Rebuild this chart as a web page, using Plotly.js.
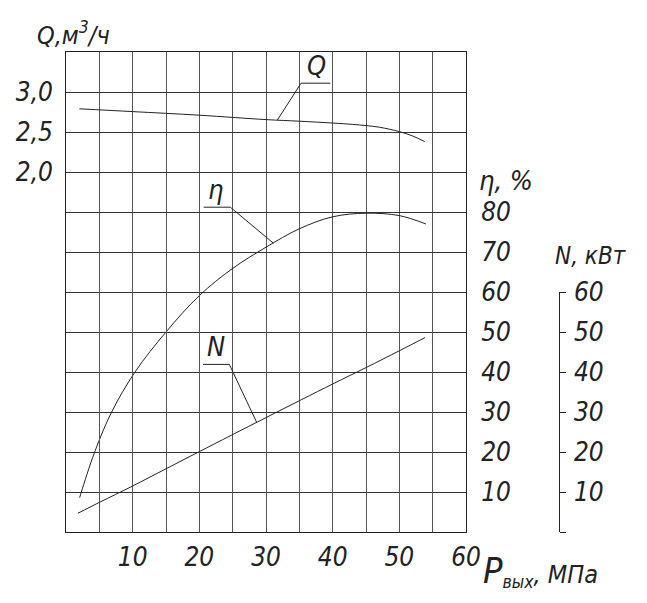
<!DOCTYPE html>
<html>
<head>
<meta charset="utf-8">
<script src="https://cdn.plot.ly/plotly-3.0.1.min.js"></script>
<style>
  html, body { margin: 0; padding: 0; background: #fff; }
  #chart { width: 647px; height: 603px; }
</style>
</head>
<body>
<div id="chart"></div>
<script>
// Pressure P_вых, MPa, and the three characteristics
const qP = [2, 10, 20, 30, 35, 40, 43, 45, 47, 50, 52, 53.8];
const qVal = [2.79, 2.755, 2.71, 2.655, 2.635, 2.612, 2.595, 2.58, 2.56, 2.505, 2.45, 2.38];

const etaP = [2.05, 2.3, 4.3, 6.85, 10.35, 15, 20, 25, 30, 35, 40, 45, 50, 54];
const etaVal = [8.6, 10, 20, 30, 40, 50, 59.1, 65.9, 71.2, 75.8, 78.8, 79.7, 79.1, 77];

const nP = [1.8, 5, 10, 15, 20, 30, 40, 45, 50, 53.85];
const nVal = [4.7, 7.4, 11.5, 15.8, 20.1, 28.6, 37, 41.1, 45.3, 48.6];

// tick labels
const pTicks = [0, 5, 10, 15, 20, 25, 30, 35, 40, 45, 50, 55, 60];
const pLabels = ['', '', '10', '', '20', '', '30', '', '40', '', '50', '', '60'];
const etaTicks = [0, 10, 20, 30, 40, 50, 60, 70, 80, 90, 100, 110, 120];
const etaLabels = ['', '10', '20', '30', '40', '50', '60', '70', '80', '', '', '', ''];
const qTicks = [2.0, 2.5, 3.0];
const qLabels = ['2,0', '2,5', '3,0'];
const nTicks = [0, 10, 20, 30, 40, 50, 60];
const nLabels = ['', '10', '20', '30', '40', '50', '60'];

const FONT = 'Liberation Sans Narrow, DejaVu Sans Condensed, sans-serif';
const INK = '#222';

// page geometry
const L = 66, R = 20, T = 52, B = 71;
const W = 647 - L - R, H = 603 - T - B;
const px = x => (x - L) / W;       // pixel -> paper
const py = y => (T + H - y) / H;

function interp(xs, ys, x) {
    for (let i = 1; i < xs.length; i++) {
        if (x <= xs[i]) {
            const t = (x - xs[i - 1]) / (xs[i] - xs[i - 1]);
            return ys[i - 1] + t * (ys[i] - ys[i - 1]);
        }
    }
    return ys[ys.length - 1];
}

const curve = { color: INK, width: 1, shape: 'spline', smoothing: 1 };
const leader = { color: INK, width: 1 };

// leader lines: foot on the curve, elbow, end of the underline
const qFoot = 31.7, etaFoot = 31.1, nFoot = 28.6;

const traces = [
    { x: qP, y: qVal, yaxis: 'y2', mode: 'lines', line: curve, hoverinfo: 'skip' },
    { x: etaP, y: etaVal, yaxis: 'y', mode: 'lines', line: curve, hoverinfo: 'skip' },
    { x: nP, y: nVal, yaxis: 'y3', mode: 'lines', line: curve, hoverinfo: 'skip' },
    { x: [qFoot, 35.25, 39.65], y: [interp(qP, qVal, qFoot), 3.11, 3.11], yaxis: 'y2',
      mode: 'lines', line: leader, hoverinfo: 'skip' },
    { x: [etaFoot, 24.65, 20.65], y: [interp(etaP, etaVal, etaFoot), 81.2, 81.2], yaxis: 'y',
      mode: 'lines', line: leader, hoverinfo: 'skip' },
    { x: [nFoot, 24.5, 20.55], y: [interp(nP, nVal, nFoot), 41.9, 41.9], yaxis: 'y3',
      mode: 'lines', line: leader, hoverinfo: 'skip' }
];

const tickFont = { family: FONT, size: 26, color: INK, style: 'italic' };
const labelFont = { family: FONT, size: 27, color: INK, style: 'italic' };
const xEnd = 400 / W;

const layout = {
    width: 647, height: 603,
    margin: { l: L, r: R, t: T, b: B, pad: 0 },
    paper_bgcolor: '#fff', plot_bgcolor: 'rgba(0,0,0,0)',
    showlegend: false,
    separators: ', ',
    font: { family: FONT, color: INK },
    xaxis: {
        domain: [0, xEnd], range: [0, 60], tickmode: 'array',
        tickvals: pTicks, ticktext: pLabels, ticks: '',
        showgrid: true, gridcolor: '#555', gridwidth: 1,
        showline: true, linecolor: INK, linewidth: 1, mirror: true,
        zeroline: false, tickfont: tickFont, ticklabelstandoff: 2
    },
    yaxis: {
        range: [0, 120], side: 'right', tickmode: 'array',
        tickvals: etaTicks, ticktext: etaLabels, ticks: '',
        showgrid: true, gridcolor: '#333', gridwidth: 1,
        showline: true, linecolor: INK, linewidth: 1, mirror: true,
        zeroline: false, tickfont: tickFont, ticklabelstandoff: 9
    },
    yaxis2: {
        overlaying: 'y', side: 'left', range: [-2.5, 3.5], tickmode: 'array',
        tickvals: qTicks, ticktext: qLabels, ticks: '', showgrid: false,
        showline: false, zeroline: false, tickfont: tickFont, ticklabelstandoff: 12
    },
    yaxis3: {
        domain: [0, 0.5], range: [0, 60], anchor: 'free', position: (558.7 - L) / W,
        side: 'right', tickmode: 'array', tickvals: nTicks, ticktext: nLabels,
        ticks: 'outside', ticklen: 6, tickcolor: INK, tickwidth: 1,
        showline: true, linecolor: INK, linewidth: 1, showgrid: false,
        zeroline: false, tickfont: tickFont, ticklabelstandoff: 3
    },
    annotations: [
        { xref: 'paper', yref: 'paper', x: px(35), y: py(34), xanchor: 'left', yanchor: 'middle',
          text: 'Q,м<sup>3</sup>/ч', showarrow: false,
          font: { family: FONT, size: 25, color: INK, style: 'italic' } },
        { xref: 'paper', yref: 'paper', x: px(477), y: py(180), xanchor: 'left', yanchor: 'middle',
          text: 'η, %', showarrow: false,
          font: { family: FONT, size: 27, color: INK, style: 'italic' } },
        { xref: 'paper', yref: 'paper', x: px(553), y: py(256), xanchor: 'left', yanchor: 'middle',
          text: 'N, кВт', showarrow: false,
          font: { family: FONT, size: 24, color: INK, style: 'italic' } },
        { xref: 'paper', yref: 'paper', x: px(481), y: py(571), xanchor: 'left', yanchor: 'middle',
          text: '<span style="font-size:36px">P</span><sub>вых</sub>, МПа', showarrow: false,
          font: { family: FONT, size: 25, color: INK, style: 'italic' } },
        // curve labels above the leader underlines
        { x: 37.5, y: 3.11, xref: 'x', yref: 'y2', xanchor: 'center', yanchor: 'bottom',
          text: 'Q', showarrow: false, font: labelFont },
        { x: 22.4, y: 81.2, xref: 'x', yref: 'y', xanchor: 'center', yanchor: 'bottom',
          text: 'η', showarrow: false, font: labelFont },
        { x: 22.5, y: 41.9, xref: 'x', yref: 'y3', xanchor: 'center', yanchor: 'bottom',
          text: 'N', showarrow: false, font: labelFont }
    ]
};

Plotly.newPlot('chart', traces, layout, { staticPlot: true, displayModeBar: false });
</script>
</body>
</html>
